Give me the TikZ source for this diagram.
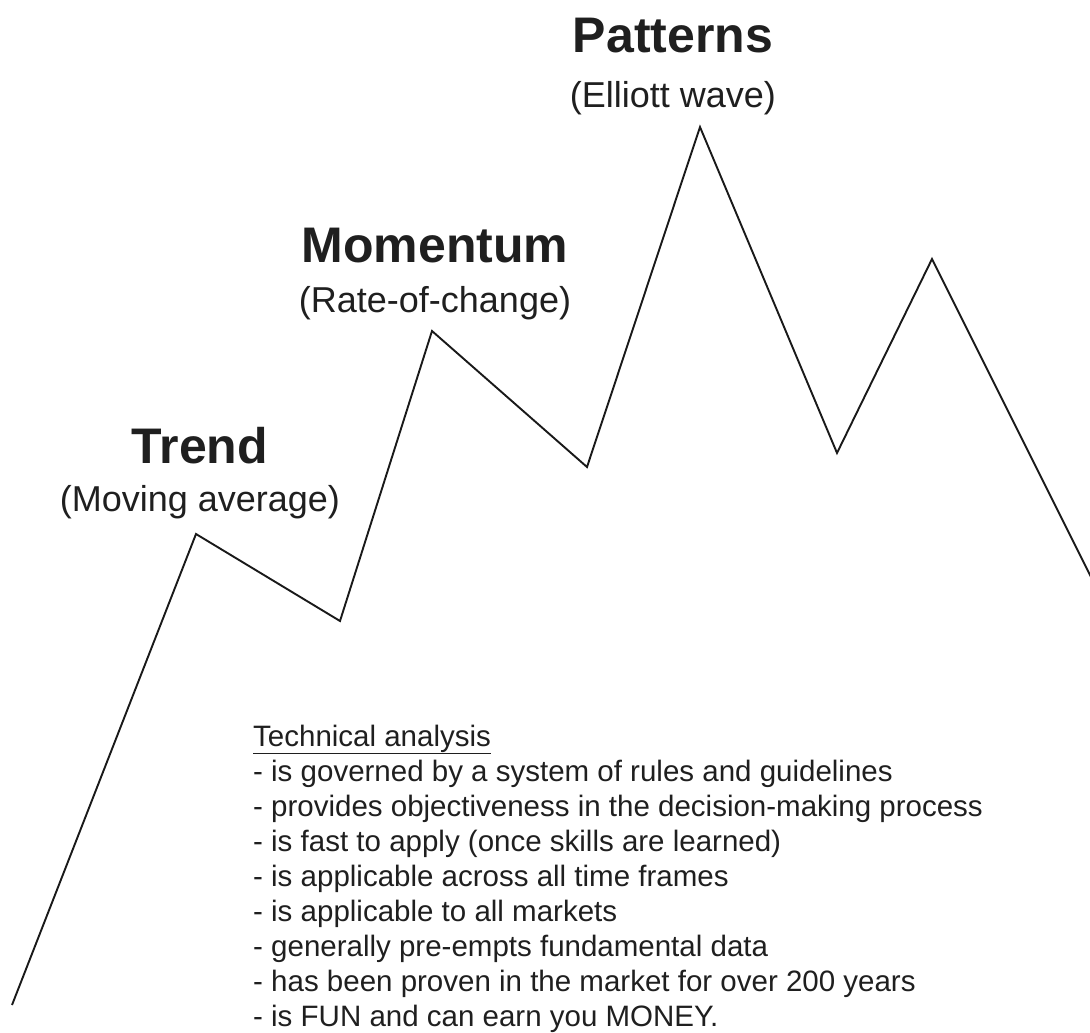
\documentclass[tikz,border=0pt]{standalone}
\usepackage{fontspec}
\setmainfont{Liberation Sans}
\begin{document}
\begin{tikzpicture}[x=1pt,y=-1pt,
  title/.style={anchor=base,inner sep=0pt,font=\fontsize{50}{54}\selectfont\bfseries,text=black!88},
  sub/.style={anchor=base,inner sep=0pt,font=\fontsize{36}{40}\selectfont,text=black!88},
  body/.style={anchor=base west,inner sep=0pt,font=\fontsize{29.5}{34}\selectfont,text=black!88},
  wave/.style={line width=1.9pt,line join=miter,black!90}]
\useasboundingbox (0,0) rectangle (1090,1033);
\coordinate (p0) at (12,1005);
\coordinate (p1) at (196,534);
\coordinate (p2) at (340,621);
\coordinate (p3) at (432,331);
\coordinate (p4) at (587,467);
\coordinate (p5) at (700,127);
\coordinate (p6) at (837,453);
\coordinate (p7) at (932,259);
\coordinate (p8) at (1096,587);
\draw[wave] (p0) -- (p1) -- (p2) -- (p3) -- (p4) -- (p5) -- (p6) -- (p7) -- (p8);

\node[title] (tp) at (673,53) {Patterns};
\node[sub] (sp) at (673,107) {(Elliott wave)};
\node[title] (tm) at (435,262) {Momentum};
\node[sub] (sm) at (435,312) {(Rate-of-change)};
\node[title] (tt) at (200,463) {Trend};
\node[sub] (st) at (200,511) {(Moving average)};

\node[body] (l0) at (253,746) {\underline{Technical analysis}};
\node[body] (l1) at (253,781.1) {- is governed by a system of rules and guidelines};
\node[body] (l2) at (253,816.2) {- provides objectiveness in the decision-making process};
\node[body] (l3) at (253,851.3) {- is fast to apply (once skills are learned)};
\node[body] (l4) at (253,886.4) {- is applicable across all time frames};
\node[body] (l5) at (253,921.5) {- is applicable to all markets};
\node[body] (l6) at (253,956.6) {- generally pre-empts fundamental data};
\node[body] (l7) at (253,991.7) {- has been proven in the market for over 200 years};
\node[body] (l8) at (253,1026.8) {- is FUN and can earn you MONEY.};
\end{tikzpicture}
\end{document}
